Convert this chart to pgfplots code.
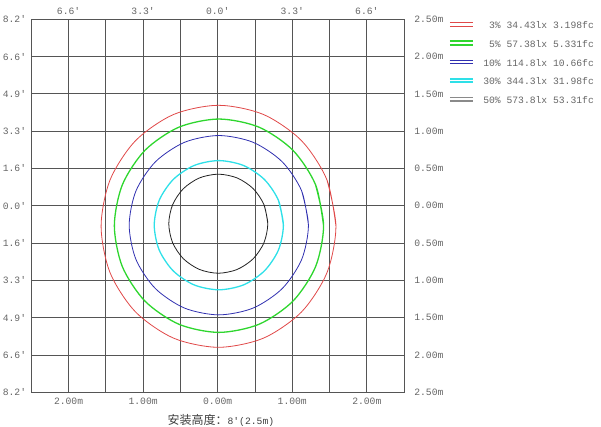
\documentclass[border=0pt]{standalone}
\usepackage{fontspec}
\setmainfont{Liberation Mono}
\setmonofont{Liberation Mono}
\newfontfamily\cjk{Noto Sans CJK SC}
\usepackage{pgfplots}
\pgfplotsset{compat=1.18}
\definecolor{gridc}{HTML}{555555}
\definecolor{txt}{HTML}{666666}
\definecolor{cred}{HTML}{E04848}
\definecolor{cgreen}{HTML}{2ED62E}
\definecolor{cblue}{HTML}{3030B0}
\definecolor{ccyan}{HTML}{2EE0E8}
\definecolor{cblack}{HTML}{222222}
\definecolor{cgray}{HTML}{8A8A8A}

\pgfplotsset{
  lbl/.style={font=\ttfamily\fontsize{9.7}{11}\selectfont, text=txt, inner sep=0pt},
  frame/.style={
    at={(31.3pt,34.7pt)}, anchor=south west,
    width=372.8pt, height=373pt, scale only axis,
    xmin=-2.5, xmax=2.5, ymin=-2.5, ymax=2.5,
    major tick length=0pt,
    axis line style={gridc, line width=0.8pt},
    tick label style={lbl},
  },
}

\begin{document}
\begin{tikzpicture}[x=1pt,y=1pt]
\path[use as bounding box] (0,0) rectangle (601,427);
\begin{axis}[
  frame,
  xtick={-2.5,-2,...,2.5}, ytick={-2.5,-2,...,2.5},
  xticklabels={,2.00m,,1.00m,,0.00m,,1.00m,,2.00m,},
  yticklabels={8.2',6.6',4.9',3.3',1.6',0.0',1.6',3.3',4.9',6.6',8.2'},
  grid=major,
  major grid style={gridc, line width=0.8pt},
  xticklabel style={yshift=-6pt},
  yticklabel style={xshift=-5pt},
  xlabel={{\cjk\fontsize{12}{14}\selectfont 安装高度：}{\ttfamily 8'(2.5m)}},
  xlabel style={at={(axis description cs:0.5085,-0.0743)}, anchor=center,
    font=\fontsize{9.7}{11}\selectfont, text=black!75},
  legend image code/.code={
    \path (0pt,0pt) -- (23.4pt,0pt);
    \draw[#1] (0pt,3.4pt) -- (23.4pt,3.4pt);
  },
  legend cell align=left,
  legend style={
    draw=none, fill=none,
    at={(axis description cs:1.1206,1.007)}, anchor=north west,
    font=\ttfamily\fontsize{9.7}{11}\selectfont, text=txt,
    inner sep=0pt, outer sep=0pt, row sep=0pt,
    nodes={inner sep=0pt, text height=12pt, text depth=6.7pt},
    /tikz/every odd column/.append style={column sep=9pt},
  },
]
% 3%
\addplot[cred, line width=0.8pt, smooth, forget plot] coordinates {
  (1.586,-0.275) (1.466,0.346) (1.125,0.872) (0.614,1.224) (0.011,1.347)
  (-0.592,1.224) (-1.103,0.872) (-1.444,0.346) (-1.564,-0.275)
  (-1.444,-0.896) (-1.103,-1.422) (-0.592,-1.774) (0.011,-1.897)
  (0.614,-1.774) (1.125,-1.422) (1.466,-0.896) (1.586,-0.275) (1.466,0.346)
};
% 5%
\addplot[cgreen, line width=1.3pt, smooth, forget plot] coordinates {
  (1.420,-0.267) (1.313,0.281) (1.009,0.744) (0.554,1.054) (0.017,1.163)
  (-0.520,1.054) (-0.975,0.744) (-1.279,0.281) (-1.386,-0.267)
  (-1.279,-0.815) (-0.975,-1.278) (-0.520,-1.588) (0.017,-1.697)
  (0.554,-1.588) (1.009,-1.278) (1.313,-0.815) (1.420,-0.267) (1.313,0.281)
};
% 10%
\addplot[cblue, line width=0.8pt, smooth, forget plot] coordinates {
  (1.217,-0.260) (1.126,0.200) (0.865,0.590) (0.475,0.851) (0.015,0.942)
  (-0.445,0.851) (-0.835,0.590) (-1.096,0.200) (-1.187,-0.260)
  (-1.096,-0.720) (-0.835,-1.110) (-0.445,-1.371) (0.015,-1.462)
  (0.475,-1.371) (0.865,-1.110) (1.126,-0.720) (1.217,-0.260) (1.126,0.200)
};
% 30%
\addplot[ccyan, line width=1.3pt, smooth, forget plot] coordinates {
  (0.881,-0.260) (0.815,0.072) (0.627,0.352) (0.347,0.540) (0.015,0.606)
  (-0.317,0.540) (-0.597,0.352) (-0.785,0.072) (-0.851,-0.260)
  (-0.785,-0.592) (-0.597,-0.872) (-0.317,-1.060) (0.015,-1.126)
  (0.347,-1.060) (0.627,-0.872) (0.815,-0.592) (0.881,-0.260) (0.815,0.072)
};
% 50%
\addplot[cblack, line width=0.8pt, smooth, forget plot] coordinates {
  (0.672,-0.240) (0.621,0.014) (0.477,0.229) (0.262,0.373) (0.008,0.424)
  (-0.246,0.373) (-0.461,0.229) (-0.605,0.014) (-0.656,-0.240)
  (-0.605,-0.494) (-0.461,-0.709) (-0.246,-0.853) (0.008,-0.904)
  (0.262,-0.853) (0.477,-0.709) (0.621,-0.494) (0.672,-0.240) (0.621,0.014)
};
\addlegendimage{cred, line width=0.8pt}
\addlegendentry{\hphantom{0}3\% 34.43lx 3.198fc}
\addlegendimage{cgreen, line width=1.8pt}
\addlegendentry{\hphantom{0}5\% 57.38lx 5.331fc}
\addlegendimage{cblue, line width=1pt}
\addlegendentry{10\% 114.8lx 10.66fc}
\addlegendimage{ccyan, line width=1.8pt}
\addlegendentry{30\% 344.3lx 31.98fc}
\addlegendimage{cgray, line width=1.8pt}
\addlegendentry{50\% 573.8lx 53.31fc}
\end{axis}
\begin{axis}[
  frame,
  axis x line*=top, axis y line*=right,
  xtick={-2,-1,0,1,2},
  xticklabels={6.6',3.3',0.0',3.3',6.6'},
  ytick={-2.5,-2,...,2.5},
  yticklabels={2.50m,2.00m,1.50m,1.00m,0.50m,0.00m,0.50m,1.00m,1.50m,2.00m,2.50m},
  xticklabel style={yshift=5pt},
  yticklabel style={xshift=10pt},
]
\end{axis}
\end{tikzpicture}
\end{document}
